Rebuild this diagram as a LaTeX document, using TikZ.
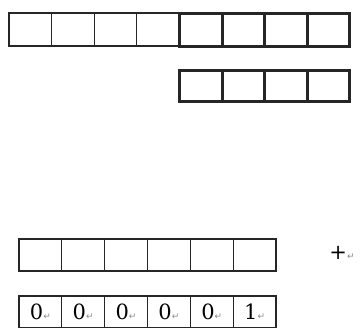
\documentclass[tikz,border=0pt]{standalone}
\usepackage{fontspec}
\usepackage{graphicx}
\usepackage{xcolor}
\usepackage{tikz}
\usetikzlibrary{positioning}
\newfontfamily\digitfont{DejaVu Serif}
\newfontfamily\markfont{DejaVu Sans}
\definecolor{cellline}{HTML}{262626}
\definecolor{markgray}{HTML}{8A8A8A}
\newcommand{\retmark}{{\markfont\fontsize{9pt}{9pt}\selectfont\color{markgray}↵}}
\newcommand{\bigdigit}[1]{\scalebox{2.1}{\digitfont #1}}

\begin{document}
\begin{tikzpicture}[x=1pt, y=-1pt,
    thincell/.style={draw=cellline, line width=1.2pt, inner sep=0pt, minimum width=42.6pt, minimum height=33pt},
    thickcell/.style={draw=cellline, line width=3pt, inner sep=0pt, minimum width=42.6pt, minimum height=31pt},
    bitcell/.style={draw=cellline, line width=1.2pt, inner sep=0pt, minimum width=42.8pt, minimum height=32pt}
]
    \useasboundingbox (0,0) rectangle (364,327);
    % Top row: four plain cells, then four heavy cells
    \node[thincell] (a1) at (30.3,29.5) {};
    \node[thincell] (a2) at (72.9,29.5) {};
    \node[thincell] (a3) at (115.5,29.5) {};
    \node[thincell] (a4) at (158.1,29.5) {};
    \node[thickcell, minimum height=33pt] (a5) at (200.7,29.5) {};
    \node[thickcell, minimum height=33pt] (a6) at (243.3,29.5) {};
    \node[thickcell, minimum height=33pt] (a7) at (285.9,29.5) {};
    \node[thickcell, minimum height=33pt] (a8) at (328.5,29.5) {};

    % Second row: heavy cells under the right half
    \node[thickcell] (b1) at (200.7,85.5) {};
    \node[thickcell] (b2) at (243.3,85.5) {};
    \node[thickcell] (b3) at (285.9,85.5) {};
    \node[thickcell] (b4) at (328.5,85.5) {};

    % Empty row and plus sign
    \node[bitcell] (c1) at (40.4,255) {};
    \node[bitcell] (c2) at (83.2,255) {};
    \node[bitcell] (c3) at (126.0,255) {};
    \node[bitcell] (c4) at (168.9,255) {};
    \node[bitcell] (c5) at (211.7,255) {};
    \node[bitcell] (c6) at (254.6,255) {};
    \node[inner sep=0pt] (plus) at (342,253) {\bigdigit{+}\retmark};

    % Bottom row with bits
    \node[bitcell] (d1) at (40.4,312) {\bigdigit{0}\retmark};
    \node[bitcell] (d2) at (83.2,312) {\bigdigit{0}\retmark};
    \node[bitcell] (d3) at (126.0,312) {\bigdigit{0}\retmark};
    \node[bitcell] (d4) at (168.9,312) {\bigdigit{0}\retmark};
    \node[bitcell] (d5) at (211.7,312) {\bigdigit{0}\retmark};
    \node[bitcell] (d6) at (254.6,312) {\bigdigit{1}\retmark};
\end{tikzpicture}
\end{document}
